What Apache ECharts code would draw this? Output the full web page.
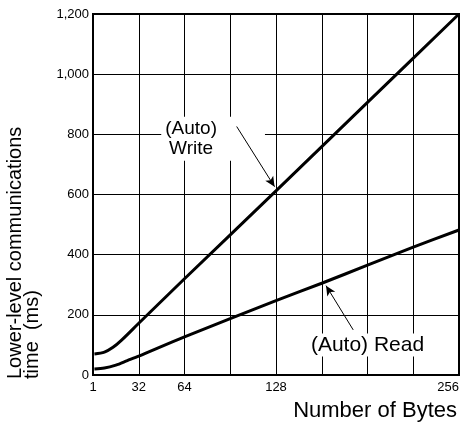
<!DOCTYPE html>
<html>
<head>
<meta charset="utf-8">
<script src="https://cdn.jsdelivr.net/npm/echarts@6/dist/echarts.min.js"></script>
<style>html,body{margin:0;padding:0;background:#fff;overflow:hidden;width:460px;height:424px}#c{width:460px;height:424px}</style>
</head>
<body>
<div id="c"></div>
<script>
const xTickLabels = {0: '1', 32: '32', 64: '64', 128: '128', 256: '256'};
const yTickLabels = {0: '0', 200: '200', 400: '400', 600: '600', 800: '800', 1000: '1,000', 1200: '1,200'};
const writeBytes = [1, 8, 14, 20, 32, 64, 128, 192, 256];
const writeTime  = [70, 76, 92, 116, 172, 320, 612, 906, 1200];
const readBytes  = [1, 8, 16, 24, 32, 64, 128, 160, 192, 224, 256];
const readTime   = [20, 23, 33, 48, 63, 127, 247, 305, 365, 425, 482];

const font = 'Liberation Sans, Arial, sans-serif';
const arrowStyle = {silent: true, z: 8, symbol: ['none', 'arrow'], symbolSize: [7, 10],
  lineStyle: {color: '#000', width: 1, type: 'solid'}, label: {show: false}};
const chart = echarts.init(document.getElementById('c'), null, {renderer: 'canvas', width: 460, height: 424});
chart.setOption({
  animation: false,
  backgroundColor: '#fff',
  grid: {left: 93, right: 1, top: 14, bottom: 49, show: true, borderColor: '#000', borderWidth: 2,
    backgroundColor: 'transparent', containLabel: false, outerBoundsMode: 'none'},
  xAxis: {
    type: 'value', min: 0, max: 256, interval: 32,
    axisLine: {show: true, lineStyle: {color: '#000', width: 2}},
    axisTick: {show: false},
    splitLine: {show: true, lineStyle: {color: '#000', width: 1}},
    axisLabel: {color: '#000', fontFamily: font, fontSize: 13, margin: 6, alignMaxLabel: 'right',
      formatter: v => xTickLabels[v] || ''},
    name: 'Number of Bytes', nameLocation: 'end', nameGap: 0,
    nameTextStyle: {color: '#000', fontFamily: font, fontSize: 22, align: 'right', verticalAlign: 'top', padding: [25, 2, 0, 0]}
  },
  yAxis: {
    type: 'value', min: 0, max: 1200, interval: 200,
    axisLine: {show: true, lineStyle: {color: '#000', width: 2}},
    axisTick: {show: false},
    splitLine: {show: true, lineStyle: {color: '#000', width: 1}},
    axisLabel: {color: '#000', fontFamily: font, fontSize: 13, margin: 4,
      formatter: v => yTickLabels[v] || ''}
  },
  graphic: [{
    type: 'text', x: 7, y: 379, rotation: Math.PI / 2,
    style: {text: 'Lower-level communications\ntime  (ms)', fill: '#000', font: '20px ' + font,
      textAlign: 'left', textVerticalAlign: 'top', lineHeight: 17}
  }],
  series: [{
    type: 'line', name: 'Write', smooth: 0.3, symbol: 'none', z: 2,
    data: writeBytes.map((b, i) => [b, writeTime[i]]),
    lineStyle: {color: '#000', width: 3},
    markPoint: {z: 4, symbolSize: 0, data: [{coord: [84, 785],
      label: {show: true, formatter: '(Auto)\nWrite', color: '#000', fontFamily: font, fontSize: 19, lineHeight: 20,
        backgroundColor: '#fff', padding: [2, 48, 2, 4], align: 'center', verticalAlign: 'middle'}}]}
  }, {
    type: 'line', name: 'Read', smooth: 0.3, symbol: 'none', z: 3,
    data: readBytes.map((b, i) => [b, readTime[i]]),
    lineStyle: {color: '#000', width: 3},
    markLine: Object.assign({}, arrowStyle, {
      data: [[{coord: [100.5, 826]}, {coord: [127, 626]}],
             [{coord: [182, 150]}, {coord: [163, 297]}]]}),
    markPoint: {z: 4, symbolSize: 0, data: [{coord: [192, 100],
      label: {show: true, formatter: '(Auto) Read', color: '#000', fontFamily: font, fontSize: 21,
        backgroundColor: '#fff', padding: [1, 3], align: 'center', verticalAlign: 'middle'}}]}
  }]
});
</script>
</body>
</html>
